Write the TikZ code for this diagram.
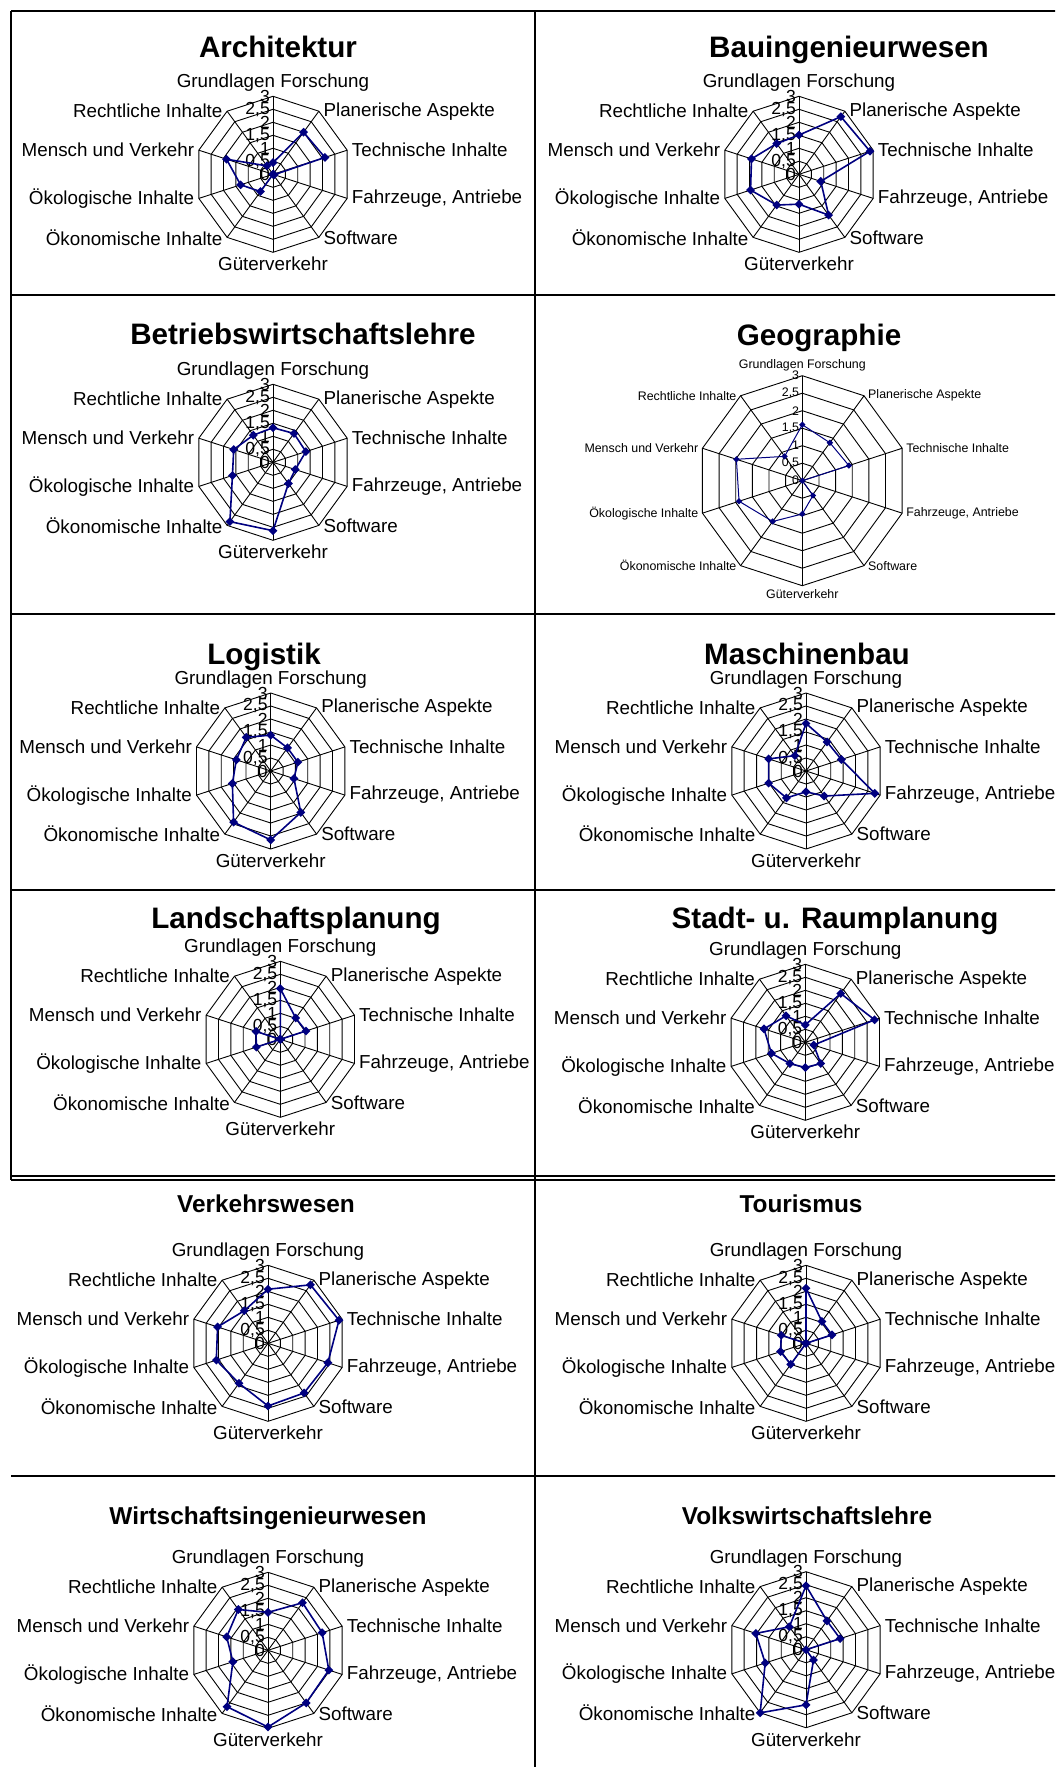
\documentclass[tikz,border=0pt]{standalone}
\usepackage{fontspec}
\setmainfont{Liberation Sans}
\usetikzlibrary{shapes.geometric}
\definecolor{navy}{RGB}{0,0,128}

\tikzset{
  gridline/.style={draw=black, line width=0.9pt},
  dataline/.style={draw=navy, line width=1.6pt, line join=round},
  marker/.style={diamond, fill=navy, inner sep=0pt, minimum size=9pt},
  catlabel/.style={inner sep=4.5pt, font=\fontsize{18.8}{20}\selectfont},
  ticklabel/.style={anchor=east, inner sep=0pt, font=\fontsize{17.5}{18}\selectfont},
  bigtitle/.style={anchor=base, inner sep=0pt, font=\bfseries\fontsize{29.6}{32}\selectfont},
  smalltitle/.style={anchor=base, inner sep=0pt, font=\bfseries\fontsize{24.4}{26}\selectfont},
  frame/.style={draw=black, line width=1.3pt},
  geo/.style={
    catlabel/.style={inner sep=4pt, font=\fontsize{12.4}{13}\selectfont},
    ticklabel/.style={anchor=east, inner sep=0pt, font=\fontsize{12.4}{13}\selectfont},
    marker/.style={diamond, fill=navy, inner sep=0pt, minimum size=6.5pt},
    dataline/.style={draw=navy, line width=1pt, line join=round}},
}

% \spider[options]{name}{cx}{cy}{radius}{ten values, scale 0..3}
\newcommand\spider[6][]{%
  \begin{scope}[shift={(#3,#4)}, yscale=-1, #1]
    % rings at 0.5, 1, ..., 3
    \foreach \k in {1,...,6}{
      \draw[gridline] (90:\k*#5/6)
        \foreach \i in {1,...,9}{ -- (90-36*\i:\k*#5/6)} -- cycle;
    }
    % spokes
    \foreach \i in {0,...,9}
      \draw[gridline] (0,0) -- (90-36*\i:#5);
    % value axis labels
    \foreach \t [count=\k from 0] in {0,{0,5},1,{1,5},2,{2,5},3}
      \node[ticklabel] (#2-t\k) at (-3,\k*#5/6) {\t};
    % category labels
    \foreach \c/\a [count=\i from 0] in {Grundlagen Forschung/south,
        Planerische Aspekte/west, Technische Inhalte/west,
        Fahrzeuge{,} Antriebe/west, Software/west, Güterverkehr/north,
        Ökonomische Inhalte/east, Ökologische Inhalte/east,
        Mensch und Verkehr/east, Rechtliche Inhalte/east}
      \node[catlabel, anchor=\a] (#2-c\i) at (90-36*\i:#5) {\c};
    % data series
    \foreach \v [count=\i from 0] in {#6}
      \coordinate (#2-p\i) at (90-36*\i:\v*#5/3);
    \draw[dataline] (#2-p0) \foreach \i in {1,...,9}{ -- (#2-p\i)} -- cycle;
    \foreach \i in {0,...,9}
      \node[marker] (#2-m\i) at (#2-p\i) {};
  \end{scope}}

\begin{document}
\begin{tikzpicture}[x=1pt, y=-1pt]
  \useasboundingbox (0,0) rectangle (1055,1767);
  \clip (0,0) rectangle (1055,1767);
  \fill[white] (0,0) rectangle (1055,1767);

  % table frame
  \draw[frame] (11,11) -- (1056,11);
  \draw[frame] (11,11) -- (11,1180);
  \draw[frame] (535,11) -- (535,1768);
  \foreach \yy in {295,614,890,1176,1180,1476}
    \draw[frame] (11,\yy) -- (1056,\yy);

  % titles (baselines)
  \node[bigtitle] (t1) at (278,57.9) {Architektur};
  \node[bigtitle] (t2) at (849,57.9) {Bauingenieurwesen};
  \node[bigtitle] (t3) at (303,344.2) {Betriebswirtschaftslehre};
  \node[bigtitle] (t4) at (819,345.3) {Geographie};
  \node[bigtitle] (t5) at (264,664.3) {Logistik};
  \node[bigtitle] (t6) at (807,664.3) {Maschinenbau};
  \node[bigtitle] (t7) at (296,928.1) {Landschaftsplanung};
  \node[bigtitle] (t8) at (835,928.1) {Stadt- u. Raumplanung};
  \node[smalltitle] (t9) at (266,1212.4) {Verkehrswesen};
  \node[smalltitle] (t10) at (801,1212.4) {Tourismus};
  \node[smalltitle] (t11) at (268,1524.7) {Wirtschaftsingenieurwesen};
  \node[smalltitle] (t12) at (807,1524.7) {Volkswirtschaftslehre};

  % charts
  \spider{arch}{273}{174.3}{78}{0.45,2.0,2.1,0.05,0,0,0.82,1.31,1.88,0.4}
  \spider{bau}{799}{174.3}{78}{1.51,2.74,2.87,0.88,1.94,1.15,1.46,1.96,1.92,1.46}
  \spider{bwl}{273}{462.3}{78}{1.33,1.37,1.33,0.9,1.01,2.63,2.82,1.64,1.59,1.29}
  \spider[geo]{geo}{802.3}{480.7}{105}{1.6,1.34,1.4,0,0.52,0.95,1.44,1.9,1.98,0.86}
  \spider{log}{270.7}{771}{78}{1.38,1.1,1.1,0.94,1.97,2.65,2.43,1.55,1.39,1.6}
  \spider{mb}{806}{771}{78}{1.83,1.38,1.43,2.78,1.19,0.8,1.28,1.51,1.51,0.73}
  \spider{lp}{280.3}{1039.3}{78}{1.95,1.01,1.04,0,0,0,0,0.97,0.98,0}
  \spider{srp}{805.3}{1042.3}{78}{0.67,2.32,2.8,0.34,1.01,0.97,1.01,1.37,1.67,1.26}
  \spider{vw}{268}{1343.3}{78}{2.08,2.78,2.87,2.42,2.36,2.41,1.9,2.09,2.04,1.55}
  \spider{tour}{806}{1343.3}{78}{2.12,1.04,1.05,0,0,0,1.0,1.03,1.0,0}
  \spider{wi}{268}{1650.3}{78}{1.46,2.26,2.19,2.46,2.5,2.95,2.68,1.42,1.67,1.94}
  \spider{vwl}{806}{1649.7}{78}{2.46,1.37,1.38,0,0.49,2.12,3.0,1.65,2.03,1.09}
\end{tikzpicture}
\end{document}
